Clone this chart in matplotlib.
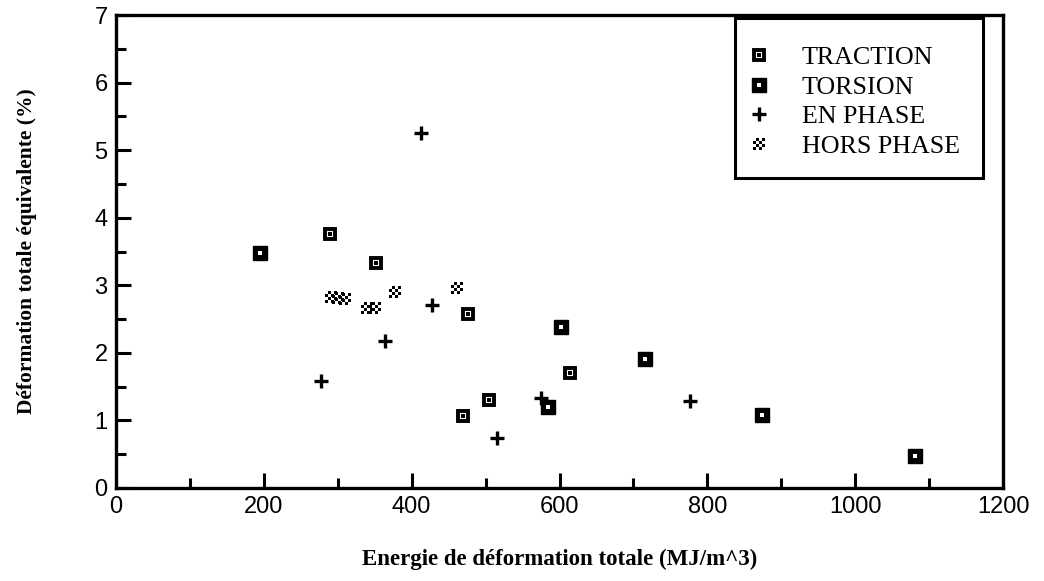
import numpy as np
import matplotlib
matplotlib.use("Agg")
import matplotlib.pyplot as plt
from matplotlib.path import Path
from matplotlib.lines import Line2D
from matplotlib.patches import Rectangle
from matplotlib.legend_handler import HandlerTuple
from matplotlib.ticker import MultipleLocator

# Energie (MJ/m^3) et déformation équivalente (%) par type d'essai
traction_x = [290, 352, 476, 469, 505, 614]
traction_y = [3.76, 3.33, 2.57, 1.07, 1.30, 1.70]

torsion_x = [195, 584, 602, 716, 874, 1081]
torsion_y = [3.48, 1.20, 2.38, 1.91, 1.08, 0.47]

en_phase_x = [412, 428, 364, 278, 575, 516, 776]
en_phase_y = [5.25, 2.71, 2.18, 1.58, 1.33, 0.74, 1.29]

hors_phase_x = [291, 300, 310, 339, 350, 378, 462]
hors_phase_y = [2.82, 2.81, 2.79, 2.66, 2.66, 2.90, 2.96]

x_ticks = [0, 200, 400, 600, 800, 1000, 1200]
y_ticks = [0, 1, 2, 3, 4, 5, 6, 7]


def checker_marker(n=4):
    """Small checkerboard used for the out-of-phase tests."""
    verts, codes = [], []
    step = 1.0 / n
    for i in range(n):
        for j in range(n):
            if (i + j) % 2 == 0:
                x0 = -0.5 + i * step
                y0 = -0.5 + j * step
                verts += [(x0, y0), (x0 + step, y0), (x0 + step, y0 + step),
                          (x0, y0 + step), (x0, y0)]
                codes += [Path.MOVETO, Path.LINETO, Path.LINETO,
                          Path.LINETO, Path.CLOSEPOLY]
    return Path(verts, codes)


CHECKER = checker_marker(4)

fig = plt.figure(figsize=(10.44, 5.81), dpi=100)
ax = fig.add_axes([116 / 1044, 1 - 488 / 581, 887 / 1044, 473 / 581])

sq_open = dict(marker="s", markersize=7.5, markerfacecolor="white",
               markeredgecolor="black", markeredgewidth=2.8, linestyle="none")
dot_black = dict(marker="s", markersize=2.2, markerfacecolor="black",
                 markeredgecolor="black", markeredgewidth=0, linestyle="none")
sq_full = dict(marker="s", markersize=9.5, markerfacecolor="black",
               markeredgecolor="black", markeredgewidth=1, linestyle="none")
dot_white = dict(marker="s", markersize=2.2, markerfacecolor="white",
                 markeredgecolor="white", markeredgewidth=0, linestyle="none")
plus = dict(marker="+", markersize=10, markeredgewidth=2.4, color="black",
            linestyle="none")
checker = dict(marker=CHECKER, markersize=8, markerfacecolor="black",
               markeredgecolor="black", markeredgewidth=0, linestyle="none")

ax.plot(traction_x, traction_y, **sq_open)
ax.plot(traction_x, traction_y, **dot_black)
ax.plot(torsion_x, torsion_y, **sq_full)
ax.plot(torsion_x, torsion_y, **dot_white)
ax.plot(en_phase_x, en_phase_y, **plus)
ax.plot(hors_phase_x, hors_phase_y, **checker)

ax.set_xlim(0, 1200)
ax.set_ylim(0, 7)
ax.set_xticks(x_ticks)
ax.set_yticks(y_ticks)
ax.xaxis.set_minor_locator(MultipleLocator(100))
ax.yaxis.set_minor_locator(MultipleLocator(0.5))

for s in ax.spines.values():
    s.set_linewidth(2.4)
ax.tick_params(which="major", direction="in", length=11, width=2.2,
               labelsize=17, pad=6)
ax.tick_params(which="minor", direction="in", length=7, width=2.2)
for lab in ax.get_xticklabels() + ax.get_yticklabels():
    lab.set_family("Liberation Sans")

ax.set_xlabel("Energie de déformation totale (MJ/m^3)", family="Liberation Serif",
              fontweight="bold", fontsize=16.5, labelpad=22)
ax.set_ylabel("Déformation totale équivalente (%)", family="Liberation Serif",
              fontweight="bold", fontsize=15.5, labelpad=41)

handles = [
    (Line2D([], [], **sq_open), Line2D([], [], **dot_black)),
    (Line2D([], [], **sq_full), Line2D([], [], **dot_white)),
    Line2D([], [], **plus),
    Line2D([], [], **checker),
]
labels = ["TRACTION", "TORSION", "EN PHASE", "HORS PHASE"]
leg = ax.legend(handles, labels, handler_map={tuple: HandlerTuple(ndivide=1, pad=0)},
                loc="upper left", bbox_to_anchor=(0.710, 0.934), borderaxespad=0,
                prop={"family": "Liberation Serif", "size": 18.7},
                frameon=False, handlelength=1.0, handletextpad=1.15,
                labelspacing=0.24, borderpad=0)

# legend box
ax.add_patch(Rectangle((0.698, 0.655), 0.977 - 0.698, 0.994 - 0.655,
                       transform=ax.transAxes, facecolor="none",
                       edgecolor="black", linewidth=2.2, zorder=5))

fig.savefig("out.png", dpi=100)
